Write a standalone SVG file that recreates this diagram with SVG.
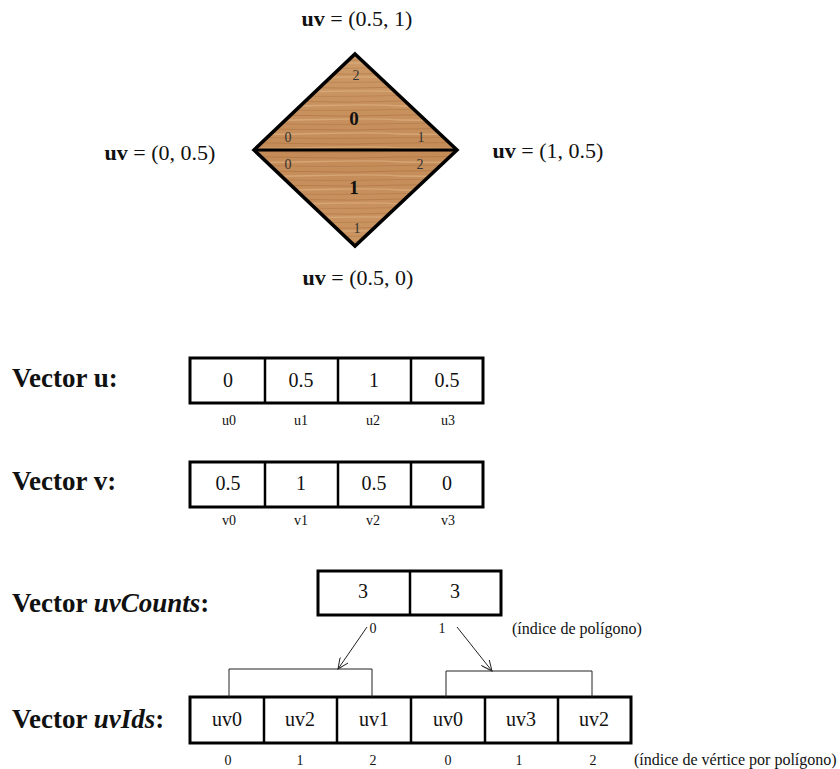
<svg xmlns="http://www.w3.org/2000/svg" width="840" height="769" viewBox="0 0 840 769">
<style>
text{font-family:"Liberation Serif","Times New Roman",serif;fill:#111}
.lbl{font-size:22px}
.b{font-weight:bold}
.big{font-size:27px;font-weight:bold}
.val{font-size:20px;text-anchor:middle}
.sm{font-size:14px;text-anchor:middle}
.note{font-size:16px}
.vn{font-size:14px;text-anchor:middle;fill:#333}
.box{fill:#fff;stroke:#000;stroke-width:3}
.div{stroke:#000;stroke-width:2.5}
.thin{fill:none;stroke:#222;stroke-width:1}
</style>
<defs>
<linearGradient id="wood" x1="0" y1="0" x2="0" y2="1">
<stop offset="0" stop-color="#cd9a68"/>
<stop offset="0.5" stop-color="#c48b57"/>
<stop offset="1" stop-color="#cb9561"/>
</linearGradient>
<pattern id="grain" patternUnits="userSpaceOnUse" width="200" height="14">
<path d="M0 3 Q50 2 100 3.5 T200 3" stroke="#9b6233" stroke-width="0.8" fill="none" opacity="0.5"/>
<path d="M0 8 Q60 9 120 7.5 T200 8" stroke="#e0b587" stroke-width="1.4" fill="none" opacity="0.6"/>
<path d="M0 11.5 Q40 11 90 12 T200 11.5" stroke="#8f5a2e" stroke-width="0.6" fill="none" opacity="0.45"/>
</pattern>
<marker id="arr" markerWidth="12" markerHeight="10" refX="11" refY="5" orient="auto" markerUnits="userSpaceOnUse">
<path d="M0 0 L11 5 L0 10" fill="none" stroke="#222" stroke-width="1"/>
</marker>
</defs>

<g id="mesh">
<polygon points="355,54 457,150 355,246 254,150" fill="url(#wood)"/>
<polygon points="355,54 457,150 355,246 254,150" fill="url(#grain)"/>
<polygon points="355,54 457,150 355,246 254,150" fill="none" stroke="#000" stroke-width="3.5" stroke-linejoin="miter"/>
<line x1="254" y1="150" x2="457" y2="150" stroke="#000" stroke-width="3"/>
<text class="vn" x="356" y="80">2</text>
<text x="354" y="125" font-size="19" font-weight="bold" text-anchor="middle">0</text>
<text class="vn" x="288" y="142">0</text>
<text class="vn" x="421" y="142">1</text>
<text class="vn" x="288" y="169">0</text>
<text class="vn" x="420" y="169">2</text>
<text x="354" y="194" font-size="19" font-weight="bold" text-anchor="middle">1</text>
<text class="vn" x="357" y="233">1</text>
</g>

<g id="uv-labels">
<text class="lbl" x="357" y="26" text-anchor="middle"><tspan class="b">uv</tspan> = (0.5, 1)</text>
<text class="lbl" x="160" y="160" text-anchor="middle"><tspan class="b">uv</tspan> = (0, 0.5)</text>
<text class="lbl" x="548" y="158" text-anchor="middle"><tspan class="b">uv</tspan> = (1, 0.5)</text>
<text class="lbl" x="358" y="285" text-anchor="middle"><tspan class="b">uv</tspan> = (0.5, 0)</text>
</g>

<g id="vector-u">
<text class="big" x="12" y="387" font-size="28">Vector u:</text>
<rect class="box" x="190" y="358" width="293" height="45"/>
<line class="div" x1="265" y1="358" x2="265" y2="403"/>
<line class="div" x1="338" y1="358" x2="338" y2="403"/>
<line class="div" x1="411" y1="358" x2="411" y2="403"/>
<text class="val" x="228" y="387">0</text>
<text class="val" x="301" y="387">0.5</text>
<text class="val" x="374" y="387">1</text>
<text class="val" x="447" y="387">0.5</text>
<text class="sm" x="229" y="425">u0</text>
<text class="sm" x="301" y="425">u1</text>
<text class="sm" x="373" y="425">u2</text>
<text class="sm" x="448" y="425">u3</text>
</g>

<g id="vector-v">
<text class="big" x="12" y="490" font-size="28">Vector v:</text>
<rect class="box" x="190" y="462" width="293" height="45"/>
<line class="div" x1="265" y1="462" x2="265" y2="507"/>
<line class="div" x1="338" y1="462" x2="338" y2="507"/>
<line class="div" x1="411" y1="462" x2="411" y2="507"/>
<text class="val" x="228" y="490">0.5</text>
<text class="val" x="301" y="490">1</text>
<text class="val" x="374" y="490">0.5</text>
<text class="val" x="447" y="490">0</text>
<text class="sm" x="229" y="525">v0</text>
<text class="sm" x="301" y="525">v1</text>
<text class="sm" x="373" y="525">v2</text>
<text class="sm" x="448" y="525">v3</text>
</g>

<g id="vector-uvcounts">
<text class="big" x="12" y="612">Vector <tspan font-style="italic">uvCounts</tspan>:</text>
<rect class="box" x="318" y="571" width="183" height="44"/>
<line class="div" x1="410" y1="571" x2="410" y2="615"/>
<text class="val" x="363" y="598">3</text>
<text class="val" x="455" y="598">3</text>
<text class="sm" x="373" y="633">0</text>
<text class="sm" x="442" y="633">1</text>
<text class="note" x="512" y="634">(índice de polígono)</text>
</g>

<g id="vector-uvids">
<text class="big" x="12" y="728">Vector <tspan font-style="italic">uvIds</tspan>:</text>
<rect class="box" x="190" y="697" width="441" height="46"/>
<line class="div" x1="264" y1="697" x2="264" y2="743"/>
<line class="div" x1="337" y1="697" x2="337" y2="743"/>
<line class="div" x1="411" y1="697" x2="411" y2="743"/>
<line class="div" x1="485" y1="697" x2="485" y2="743"/>
<line class="div" x1="558" y1="697" x2="558" y2="743"/>
<text class="val" x="227" y="726">uv0</text>
<text class="val" x="300" y="726">uv2</text>
<text class="val" x="374" y="726">uv1</text>
<text class="val" x="448" y="726">uv0</text>
<text class="val" x="521" y="726">uv3</text>
<text class="val" x="594" y="726">uv2</text>
<text class="sm" x="228" y="765">0</text>
<text class="sm" x="300" y="765">1</text>
<text class="sm" x="373" y="765">2</text>
<text class="sm" x="448" y="765">0</text>
<text class="sm" x="519" y="765">1</text>
<text class="sm" x="593" y="765">2</text>
<text class="note" x="634" y="765">(índice de vértice por polígono)</text>
</g>

<g id="connectors">
<polyline class="thin" points="229,697 229,669 372,669 372,697"/>
<polyline class="thin" points="446,697 446,671 592,671 592,697"/>
<line class="thin" x1="367" y1="627" x2="338" y2="669" marker-end="url(#arr)"/>
<line class="thin" x1="457" y1="627" x2="492" y2="671" marker-end="url(#arr)"/>
</g>
</svg>
